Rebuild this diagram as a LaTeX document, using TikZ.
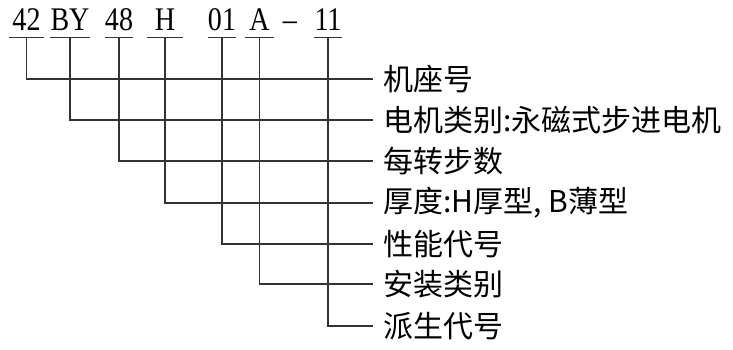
\documentclass[tikz,border=0pt]{standalone}
\usepackage{fontspec}
\setmainfont{Liberation Serif}
\newfontfamily\codefont[FakeStretch=0.85]{Liberation Serif}
\newfontfamily\cjk{Noto Sans CJK SC}
\usetikzlibrary{positioning}

\begin{document}
\begin{tikzpicture}[x=1pt,y=-1pt,
	code/.style={inner sep=0pt,anchor=base,text height=22pt,text depth=7pt,font=\codefont\fontsize{33}{33}\selectfont},
	lbl/.style={anchor=west,inner xsep=10pt,inner ysep=0pt,font=\cjk\fontsize{30}{30}\selectfont},
	lead/.style={line width=1.3pt,black!80}]
			\useasboundingbox (0,0) rectangle (733,349);
			\node[code,minimum width=35pt] (c1) at (26.5,30) {42};
			\node[code,minimum width=39pt] (c2) at (70,30) {BY};
			\node[code,minimum width=28pt] (c3) at (119,30) {48};
			\node[code,minimum width=36pt] (c4) at (165,30) {H};
			\node[code,minimum width=19pt] (c5) at (222,30) {01};
			\node[code,minimum width=28pt] (c6) at (259.5,30) {A};
			\node[code] (d) at (290,30) {–};
			\node[code,minimum width=23pt] (c7) at (328,30) {11};
			\node[lbl] (l1) at (373,79) {机座号};
			\node[lbl] (l2) at (373,120) {电机类别:永磁式步进电机};
			\node[lbl] (l3) at (373,161) {每转步数};
			\node[lbl] (l4) at (373,203) {厚度:H厚型, B薄型};
			\node[lbl] (l5) at (373,244) {性能代号};
			\node[lbl] (l6) at (373,284) {安装类别};
			\node[lbl] (l7) at (373,326) {派生代号};
			\draw[lead] (c1.south west)--(c1.south east);
			\draw[lead] (c2.south west)--(c2.south east);
			\draw[lead] (c3.south west)--(c3.south east);
			\draw[lead] (c4.south west)--(c4.south east);
			\draw[lead] (c5.south west)--(c5.south east);
			\draw[lead] (c6.south west)--(c6.south east);
			\draw[lead] (c7.south west)--(c7.south east);
			\draw[lead] (c1.south) |- (l1.west);
			\draw[lead] (c2.south) |- (l2.west);
			\draw[lead] (c3.south) |- (l3.west);
			\draw[lead] (c4.south) |- (l4.west);
			\draw[lead] (c5.south) |- (l5.west);
			\draw[lead] (c6.south) |- (l6.west);
			\draw[lead] (c7.south) |- (l7.west);
		\end{tikzpicture}
\end{document}
